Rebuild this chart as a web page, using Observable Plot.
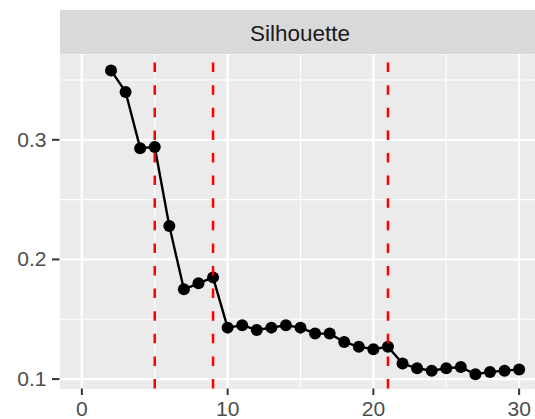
<!DOCTYPE html>
<html>
<head>
<meta charset="utf-8">
<script src="https://cdn.jsdelivr.net/npm/d3@7"></script>
<script src="https://cdn.jsdelivr.net/npm/@observablehq/plot@0.6"></script>
<style>
  html, body { margin: 0; padding: 0; background: #ffffff; overflow: hidden; }
  #wrap { position: relative; width: 541px; font-family: "Liberation Sans", Arial, sans-serif; }
  #spacer { height: 10px; }
  #strip {
    margin-left: 59.5px; width: 481px; height: 44px; box-sizing: border-box;
    padding-top: 3.5px; line-height: 40.5px; text-align: center;
    background: #D9D9D9; color: #1A1A1A; font-size: 22.5px;
  }
  svg { display: block; }
</style>
</head>
<body>
<div id="wrap">
  <div id="spacer"></div>
  <div id="strip"></div>
</div>
<script>
// ---- data ----
const facetTitle = "Silhouette";
const k = [2, 3, 4, 5, 6, 7, 8, 9, 10, 11, 12, 13, 14, 15, 16, 17, 18, 19, 20, 21, 22, 23, 24, 25, 26, 27, 28, 29, 30];
const silhouette = [0.358, 0.340, 0.293, 0.294, 0.228, 0.175, 0.180, 0.185, 0.143, 0.145, 0.141, 0.143, 0.145, 0.143, 0.138, 0.138, 0.131, 0.127, 0.125, 0.127, 0.113, 0.109, 0.107, 0.109, 0.110, 0.104, 0.106, 0.107, 0.108];
const cutoffs = [5, 9, 21];
const xMajor = [0, 10, 20, 30];
const xMinor = [5, 15, 25];
const yMajor = [0.1, 0.2, 0.3];
const yMinor = [0.15, 0.25, 0.35];

const data = k.map((x, i) => ({k: x, s: silhouette[i]}));
const yDomain = [0.0917, 0.3713];

document.getElementById("strip").textContent = facetTitle;

const chart = Plot.plot({
  width: 541,
  height: 365,
  marginTop: 0,
  marginBottom: 30.5,
  marginLeft: 59.5,
  marginRight: 0.5,
  x: {domain: [-1.5, 31.5]},
  y: {domain: yDomain},
  style: {fontFamily: "'Liberation Sans', Arial, sans-serif", background: "transparent", overflow: "visible"},
  marks: [
    Plot.frame({fill: "#EBEBEB", stroke: null}),
    Plot.ruleX(xMinor, {x: d => d, stroke: "#ffffff", strokeWidth: 1.1}),
    Plot.ruleY(yMinor, {y: d => d, stroke: "#ffffff", strokeWidth: 1.1}),
    Plot.ruleX(xMajor, {x: d => d, stroke: "#ffffff", strokeWidth: 2.2}),
    Plot.ruleY(yMajor, {y: d => d, stroke: "#ffffff", strokeWidth: 2.2}),
    Plot.axisX({ticks: xMajor, tickSize: 6.5, tickPadding: 6, fontSize: 21, fill: "#4D4D4D", stroke: "#333333", strokeWidth: 2, label: null, tickFormat: d3.format("d")}),
    Plot.axisY({ticks: yMajor, tickSize: 7.5, tickPadding: 6, fontSize: 21, fill: "#4D4D4D", stroke: "#333333", strokeWidth: 2, label: null, tickFormat: d3.format(".1f")}),
    Plot.line(data, {x: "k", y: "s", stroke: "#000000", strokeWidth: 2.4}),
    Plot.dot(data, {x: "k", y: "s", r: 6, fill: "#000000", stroke: null}),
    Plot.ruleX(cutoffs, {x: d => d, y1: yDomain[0], y2: yDomain[1], stroke: "#FF0000", strokeWidth: 2.5, strokeDasharray: "9.5,13.1"})
  ]
});

document.getElementById("wrap").appendChild(chart);
</script>
</body>
</html>
